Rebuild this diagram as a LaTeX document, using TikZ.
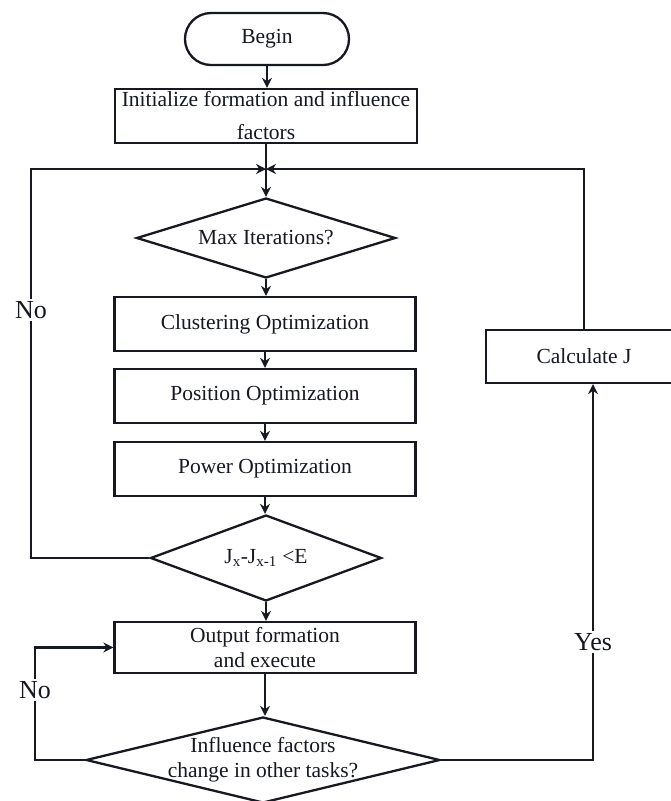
\documentclass[tikz,border=0pt]{standalone}
\usepackage{fontspec}
\setmainfont{Liberation Serif}
\usetikzlibrary{shapes.geometric,arrows.meta,calc}
\definecolor{ink}{RGB}{22,24,34}
\begin{document}
\begin{tikzpicture}[x=1pt,y=-1pt,
  every node/.style={text=ink, font=\fontsize{21.5}{25}\selectfont},
  flow/.style={draw=ink, line width=2.3pt, -{Stealth[length=10pt,width=10pt]}},
  link/.style={draw=ink, line width=2.3pt},
  procbox/.style={draw=ink, line width=2.3pt, rectangle, inner sep=0pt,
    minimum width=301pt, minimum height=54pt, align=center},
  decide/.style={draw=ink, line width=2.3pt, diamond, inner sep=0pt, align=center},
  lbl/.style={fill=white, inner sep=2pt, font=\fontsize{26}{30}\selectfont}]

% page
\fill[white] (0,0) rectangle (671,801);
\useasboundingbox (0,0) rectangle (671,801);

% main column
\node[draw=ink, line width=2.3pt, rounded corners=26pt, minimum width=164pt,
      minimum height=52pt, inner sep=0pt] (begin) at (267,39) {Begin};
\node[procbox, minimum width=302pt, font=\fontsize{21.5}{33}\selectfont]
      (init) at (266,116) {\raisebox{3pt}{\parbox{300pt}{\centering Initialize formation and influence\\factors}}};
\coordinate (jn) at (266,169);
\node[decide, aspect=3.2, minimum width=259pt, minimum height=80pt]
      (max) at (266,238) {Max Iterations?};
\node[procbox] (clust) at (265,324) {Clustering Optimization};
\node[procbox] (pos)   at (265,396) {Position Optimization};
\node[procbox] (pow)   at (265,469) {Power Optimization};
\node[decide, aspect=2.7, minimum width=231pt, minimum height=86pt]
      (jdia) at (266,558) {J\textsubscript{x}-J\textsubscript{x-1} <E};
\node[procbox, minimum height=51pt] (out) at (265,647.5) {Output formation\\and execute};
\node[decide, aspect=4.1, inner xsep=-30pt, inner ysep=-15pt,
      minimum width=354pt, minimum height=86pt]
      (inf) at (263,760) {Influence factors\\change in other tasks?};

% side box, running past the right edge
\node[procbox, minimum width=196pt, minimum height=53pt] (calc) at (584,356.5) {Calculate J};

% loop corners
\coordinate (lx) at (31,169);
\coordinate (nl) at (35,647.5);
\coordinate (yr) at (593,761);

% main flow
\draw[flow] (begin.south) -- (begin.south |- init.north);
\draw[link] (init.south) -- (jn);
\draw[flow] (jn) -- (jn |- max.north);
\draw[flow] (max.south) -- (max.south |- clust.north);
\draw[flow] (clust.south) -- (clust.south |- pos.north);
\draw[flow] (pos.south) -- (pos.south |- pow.north);
\draw[flow] (pow.south) -- (pow.south |- jdia.north);
\draw[flow] (jdia.south) -- (jdia.south |- out.north);
\draw[flow] (out.south) -- (out.south |- inf.north);

% loops
\draw[flow] (jdia.west) -| (lx) -- (jn);
\draw[flow] (calc.north) |- (jn);
\draw[flow] (inf.west) -| (nl) -- (out.west);
\draw[flow] (inf.east) -- (inf.east -| yr) -- (yr |- calc.south);

% branch labels
\node[lbl] (no1) at (31,310) {No};
\node[lbl] (no2) at (35,690) {No};
\node[lbl] (yes) at (593,642) {Yes};
\end{tikzpicture}
\end{document}
